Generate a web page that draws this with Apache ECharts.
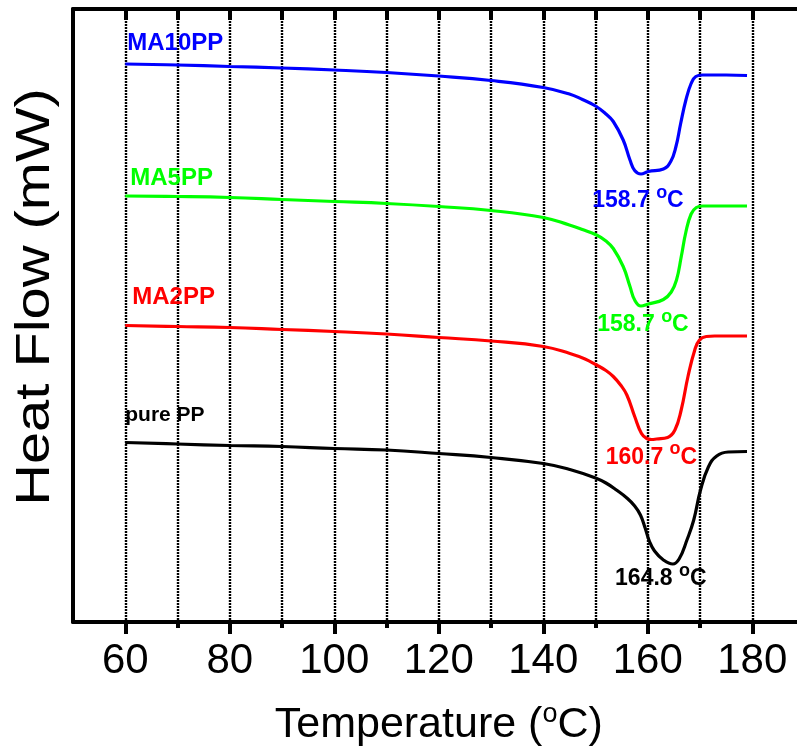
<!DOCTYPE html>
<html>
<head>
<meta charset="utf-8">
<script src="https://cdn.jsdelivr.net/npm/echarts@6/dist/echarts.min.js"></script>
<style>
  html, body { margin: 0; padding: 0; background: #ffffff; }
  #chart { width: 797px; height: 749px; }
</style>
</head>
<body>
<div id="chart"></div>
<script>
// DSC heating scans (Temperature in °C, heat flow in arbitrary mW offset units)
const tempMA10 = [60, 70, 80, 90, 100, 110, 120, 130, 140, 145, 147.5, 150, 152, 153.4, 155.3, 156.6, 157.5, 158.7, 160.1, 163, 164.4, 165.4, 166.3, 167.3, 168.3, 169.2, 170.5, 175, 179];
const heatMA10 = [11.16, 11.14, 11.11, 11.08, 11.04, 10.99, 10.92, 10.83, 10.69, 10.56, 10.45, 10.32, 10.16, 10.01, 9.64, 9.24, 9.03, 8.96, 9.01, 9.06, 9.21, 9.51, 9.97, 10.44, 10.77, 10.91, 10.94, 10.94, 10.93];

const tempMA5 = [60, 70, 80, 90, 100, 110, 120, 130, 140, 145, 147.5, 150.2, 152, 153.4, 155.3, 156.6, 157.5, 158.7, 160.1, 163, 164.5, 165.5, 166.4, 167.3, 168.3, 169.3, 170.5, 175, 179];
const heatMA5 = [8.52, 8.51, 8.49, 8.45, 8.41, 8.37, 8.31, 8.23, 8.09, 7.94, 7.85, 7.74, 7.62, 7.47, 7.11, 6.71, 6.44, 6.32, 6.36, 6.45, 6.60, 6.84, 7.30, 7.80, 8.16, 8.29, 8.32, 8.32, 8.32];

const tempMA2 = [60, 70, 80, 90, 100, 110, 120, 130, 140, 145.1, 148, 150.2, 152, 153.4, 154.8, 156, 157.5, 158.8, 159.8, 160.7, 161.7, 163.8, 165.2, 166.4, 167.7, 169, 169.9, 171.2, 172.8, 179];
const heatMA2 = [5.93, 5.91, 5.89, 5.85, 5.81, 5.76, 5.69, 5.62, 5.51, 5.37, 5.26, 5.14, 5.03, 4.91, 4.74, 4.54, 4.11, 3.77, 3.67, 3.65, 3.66, 3.69, 3.84, 4.24, 4.91, 5.44, 5.64, 5.71, 5.72, 5.72];

const tempPP = [60, 70, 80, 90, 100, 110, 120, 130, 140, 145.1, 150, 152, 154, 156, 157.5, 158.6, 159.5, 160.3, 161.3, 163, 164.8, 166, 167.5, 168.8, 170.1, 171.6, 173.2, 175.4, 179];
const heatPP = [3.59, 3.56, 3.53, 3.51, 3.47, 3.44, 3.37, 3.29, 3.17, 3.05, 2.88, 2.78, 2.64, 2.48, 2.32, 2.14, 1.88, 1.62, 1.42, 1.24, 1.16, 1.26, 1.64, 2.04, 2.64, 3.10, 3.32, 3.40, 3.41];

const sampleNames = ['MA10PP', 'MA5PP', 'MA2PP', 'pure PP'];
const peakTemps = [158.7, 158.7, 160.7, 164.8];
const xTickLabels = [60, 80, 100, 120, 140, 160, 180];
const xMinorTicks = [70, 90, 110, 130, 150, 170];
const xTopTicks = [60, 70, 80, 90, 100, 110, 120, 130, 140, 150, 160, 170, 180];

const temps = [tempMA10, tempMA5, tempMA2, tempPP];
const heats = [heatMA10, heatMA5, heatMA2, heatPP];
const colors = ['#0000ff', '#00ff00', '#ff0000', '#000000'];
// label placement (pixel offsets from the anchor points)
const nameOffsets = [[2, -21], [5, -18], [7, -28], [0, -27]];
const peakOffsets = [[-3, 27], [2, 19], [0, 18], [-12, 15]];
const nameSizes = [24, 24, 24, 21];

const FONT = '"Liberation Sans", Arial, sans-serif';

const series = sampleNames.map((name, i) => {
  const data = temps[i].map((t, k) => [t, heats[i][k]]);
  const pk = peakTemps[i];
  const pkIdx = temps[i].indexOf(pk);
  return {
    name: name,
    type: 'line',
    data: data,
    showSymbol: false,
    smooth: 0.45,
    lineStyle: { color: colors[i], width: 3.2 },
    itemStyle: { color: colors[i] },
    z: 5,
    markPoint: {
      symbol: 'circle',
      symbolSize: 0,
      silent: true,
      data: [
        {
          coord: [temps[i][0], heats[i][0]],
          label: {
            show: true,
            position: 'inside',
            offset: nameOffsets[i],
            align: 'left',
            verticalAlign: 'middle',
            formatter: name,
            color: colors[i],
            fontFamily: FONT,
            fontWeight: 'bold',
            fontSize: nameSizes[i]
          }
        },
        {
          coord: [pk, heats[i][pkIdx]],
          label: {
            show: true,
            position: 'inside',
            offset: peakOffsets[i],
            align: 'center',
            verticalAlign: 'middle',
            formatter: '{n|' + pk.toFixed(1) + ' }{s|o}{n|C}',
            rich: {
              n: { color: colors[i], fontFamily: FONT, fontWeight: 'bold', fontSize: 23 },
              s: { color: colors[i], fontFamily: FONT, fontWeight: 'bold', fontSize: 18, padding: [0, 0, 16, 0] }
            }
          }
        }
      ]
    }
  };
});

const chart = echarts.init(document.getElementById('chart'), null, { renderer: 'canvas' });
chart.setOption({
  animation: false,
  backgroundColor: '#ffffff',
  grid: { left: 73, top: 9, bottom: 127, right: -7.5, containLabel: false, outerBoundsMode: 'none' },
  xAxis: [
    {
      type: 'value', position: 'bottom', min: 50, max: 190, interval: 10,
      name: '{t|Temperature (}{s|o}{t|C)}',
      nameLocation: 'middle', nameGap: 79,
      nameTextStyle: {
        rich: {
          t: { fontFamily: FONT, fontSize: 43, color: '#000' },
          s: { fontFamily: FONT, fontSize: 27, color: '#000', padding: [0, 0, 22, 0] }
        }
      },
      axisLine: { show: true, onZero: false, lineStyle: { color: '#000', width: 4 } },
      axisTick: { show: true, inside: false, length: 12, customValues: xTickLabels, lineStyle: { color: '#000', width: 4 } },
      axisLabel: { show: true, customValues: xTickLabels, margin: 18, color: '#000', fontFamily: FONT, fontSize: 42 },
      splitLine: { show: false }
    },
    {
      type: 'value', position: 'bottom', min: 50, max: 190, interval: 10,
      axisLine: { show: false, onZero: false },
      axisTick: { show: true, inside: false, length: 6, customValues: xMinorTicks, lineStyle: { color: '#000', width: 4 } },
      axisLabel: { show: false },
      splitLine: { show: false }
    },
    {
      type: 'value', position: 'top', min: 50, max: 190, interval: 10,
      axisLine: { show: true, onZero: false, lineStyle: { color: '#000', width: 4 } },
      axisTick: { show: true, inside: true, length: 11, customValues: xTopTicks, lineStyle: { color: '#000', width: 4 } },
      axisLabel: { show: false },
      // dotted vertical guides every 10 °C
      splitLine: { show: true, lineStyle: { color: '#000', width: 2.4, type: [2, 1] } }
    }
  ],
  yAxis: {
    type: 'value', min: 0, max: 12.26,
    axisLine: { show: true, onZero: false, lineStyle: { color: '#000', width: 4 } },
    axisTick: { show: false },
    axisLabel: { show: false },
    splitLine: { show: false }
  },
  graphic: [
    {
      type: 'text',
      x: 35, y: 297,
      rotation: Math.PI / 2,
      scaleX: 1.18,
      style: {
        text: 'Heat Flow (mW)',
        font: '49px "Liberation Sans", Arial, sans-serif',
        fill: '#000',
        align: 'center',
        verticalAlign: 'middle'
      }
    }
  ],
  series: series
});
</script>
</body>
</html>
